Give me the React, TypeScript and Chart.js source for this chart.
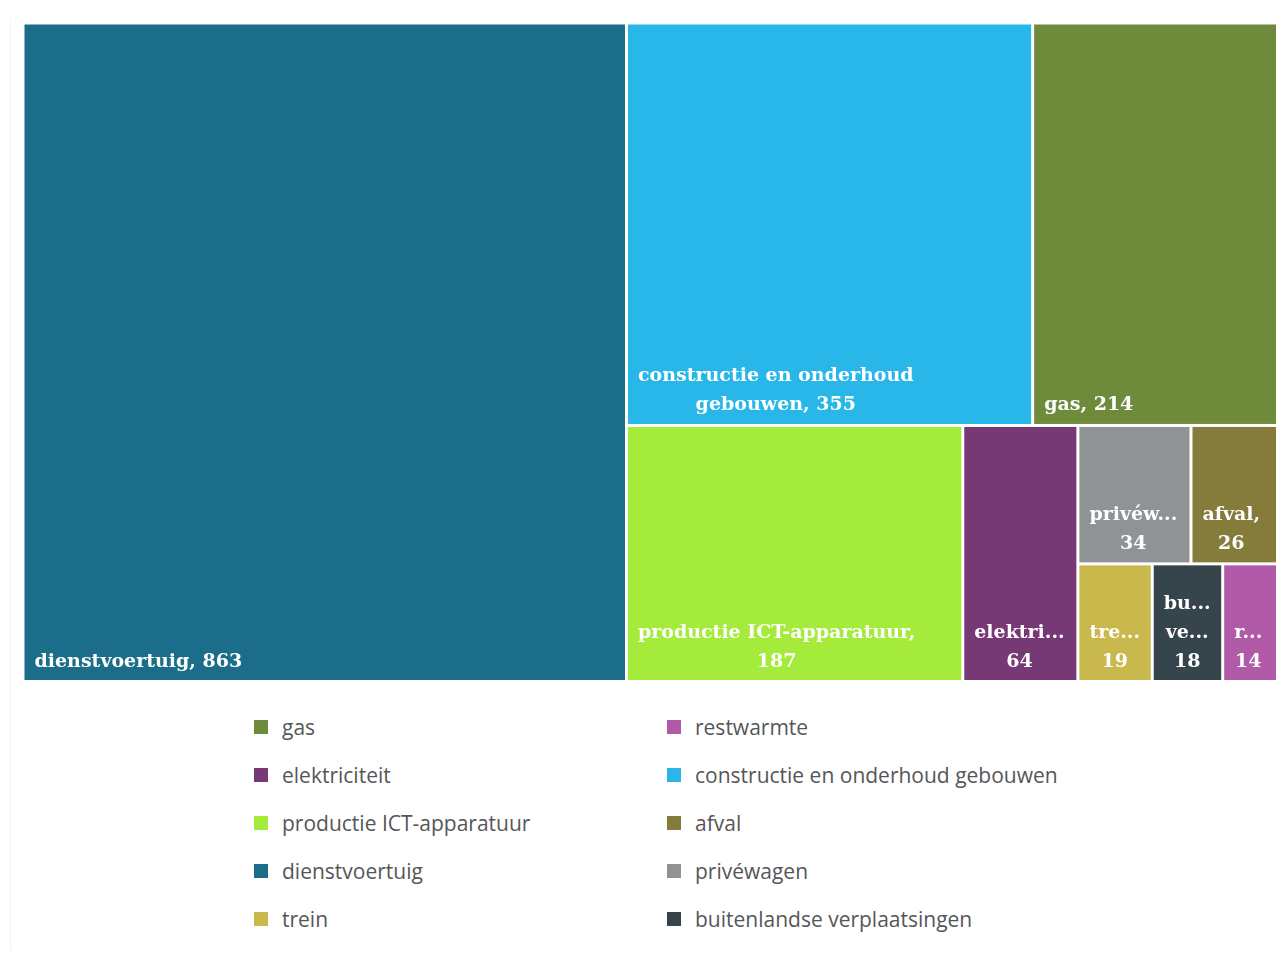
import React, { useEffect, useRef } from 'react';
import { Chart, registerables } from 'chart.js';

Chart.register(...registerables);

// ---- data ----
const categories = [
  'dienstvoertuig',
  'constructie en onderhoud gebouwen',
  'gas',
  'productie ICT-apparatuur',
  'elektriciteit',
  'privéwagen',
  'afval',
  'trein',
  'buitenlandse verplaatsingen',
  'restwarmte',
];
const values = [863, 355, 214, 187, 64, 34, 26, 19, 18, 14];
const colors = [
  '#1b6d8a',
  '#29b6e9',
  '#6e8b3b',
  '#a4eb3b',
  '#773876',
  '#909396',
  '#857b3b',
  '#c9b84b',
  '#36444c',
  '#b05aa8',
];
const legendOrder = [
  'gas',
  'restwarmte',
  'elektriciteit',
  'constructie en onderhoud gebouwen',
  'productie ICT-apparatuur',
  'afval',
  'dienstvoertuig',
  'privéwagen',
  'trein',
  'buitenlandse verplaatsingen',
];

// ---- layout constants ----
const TW = 100; // domain width of the treemap
const TH = 52.5; // domain height (same aspect as the plot area)
const RATIO = 0.85; // squarify target ratio
const GAP = 1.5;
const PAD = 10;
const LINE_H = 29;
const BASE_OFF = 13.5;
const LABEL_FONT = 'bold 19px "DejaVu Serif", serif';

type Rect = { x: number; y: number; w: number; h: number };

function squarify(vals: number[], x0: number, y0: number, w0: number, h0: number, ratio: number): Rect[] {
  const total = vals.reduce((a, b) => a + b, 0);
  const k = (w0 * h0) / total;
  const areas = vals.map((v) => v * k);
  const out: Rect[] = [];
  let x = x0, y = y0, w = w0, h = h0;
  let i = 0;
  while (i < areas.length) {
    const L = Math.min(w, h);
    const worst = (row: number[]) => {
      const s = row.reduce((a, b) => a + b, 0);
      const mx = Math.max(...row);
      const mn = Math.min(...row);
      const f = L * L * ratio;
      return Math.max((f * mx) / (s * s), (s * s) / (f * mn));
    };
    let row = [areas[i]];
    let best = worst(row);
    let j = i + 1;
    while (j < areas.length) {
      const cand = [...row, areas[j]];
      const sc = worst(cand);
      if (sc <= best) {
        row = cand;
        best = sc;
        j++;
      } else break;
    }
    const s = row.reduce((a, b) => a + b, 0);
    if (w >= h) {
      const cw = s / h;
      let yy = y;
      for (const a of row) {
        const rh = a / cw;
        out.push({ x, y: yy, w: cw, h: rh });
        yy += rh;
      }
      x += cw;
      w -= cw;
    } else {
      const rh = s / w;
      let xx = x;
      for (const a of row) {
        const rw = a / rh;
        out.push({ x: xx, y, w: rw, h: rh });
        xx += rw;
      }
      y += rh;
      h -= rh;
    }
    i = j;
  }
  return out;
}

const treemapPlugin = {
  id: 'treemapCells',
  afterDatasetsDraw(chart: any) {
    const { ctx } = chart;
    const xs = chart.scales.x;
    const ys = chart.scales.y;
    const rects = squarify(values, 0, 0, TW, TH, RATIO);
    ctx.save();
    rects.forEach((r, i) => {
      const left = xs.getPixelForValue(r.x) + GAP;
      const right = xs.getPixelForValue(r.x + r.w) - GAP;
      const top = ys.getPixelForValue(r.y) + GAP;
      const bottom = ys.getPixelForValue(r.y + r.h) - GAP;
      ctx.fillStyle = colors[i];
      ctx.fillRect(left, top, right - left, bottom - top);

      // label
      ctx.font = LABEL_FONT;
      const avail = right - left - 2 * PAD;
      const fit = (wd: string) => {
        if (ctx.measureText(wd).width <= avail) return wd;
        let s = wd;
        while (s.length > 1 && ctx.measureText(s + '...').width > avail) s = s.slice(0, -1);
        return s + '...';
      };
      const words = `${categories[i]}, ${values[i]}`.split(' ');
      const lines: string[] = [];
      let cur = '';
      for (const wd of words) {
        const test = cur ? cur + ' ' + wd : wd;
        if (ctx.measureText(test).width <= avail) cur = test;
        else {
          if (cur) lines.push(cur);
          cur = fit(wd);
        }
      }
      if (cur) lines.push(cur);
      const blockW = Math.max(...lines.map((l) => ctx.measureText(l).width));
      const cx = left + PAD + blockW / 2;
      ctx.fillStyle = '#ffffff';
      ctx.textAlign = 'center';
      ctx.textBaseline = 'alphabetic';
      const n = lines.length;
      lines.forEach((l, kk) => {
        const by = bottom - BASE_OFF - (n - 1 - kk) * LINE_H;
        ctx.fillText(l, cx, by);
      });
    });
    ctx.restore();
  },
};

export default function App() {
  const ref = useRef<HTMLCanvasElement>(null);
  useEffect(() => {
    const chart = new Chart(ref.current as HTMLCanvasElement, {
      type: 'scatter',
      data: { datasets: [{ label: 'uitstoot', data: [], pointRadius: 0 }] },
      options: {
        animation: false,
        responsive: true,
        maintainAspectRatio: false,
        events: [],
        layout: { padding: { left: 15, top: 15, right: 2.5, bottom: 6.5 } },
        plugins: { legend: { display: false }, tooltip: { enabled: false } },
        scales: {
          x: { type: 'linear', display: false, min: 0, max: TW },
          y: { type: 'linear', display: false, min: 0, max: TH, reverse: true },
        },
      },
      plugins: [treemapPlugin],
    } as any);
    return () => chart.destroy();
  }, []);

  const colorOf = (name: string) => colors[categories.indexOf(name)];

  return (
    <div style={{ position: 'relative', width: 1272, height: 942, background: '#fff' }}>
      <div
        style={{
          position: 'absolute',
          left: 2,
          top: 12,
          bottom: 0,
          width: 0,
          borderLeft: '1px solid #f4f4f4',
        }}
      />
      <div style={{ position: 'relative', width: 1272, height: 680 }}>
        <canvas ref={ref} />
      </div>
      <div
        style={{
          position: 'absolute',
          top: 695,
          left: 246,
          display: 'grid',
          gridTemplateColumns: '413px auto',
          gridAutoRows: '48px',
          fontFamily: '"Open Sans", sans-serif',
          fontSize: 21,
          color: '#555658',
        }}
      >
        {legendOrder.map((name) => (
          <div key={name} style={{ display: 'flex', alignItems: 'center', whiteSpace: 'nowrap' }}>
            <span
              style={{
                display: 'inline-block',
                width: 14,
                height: 14,
                background: colorOf(name),
                marginRight: 14,
                flex: '0 0 auto',
              }}
            />
            <span>{name}</span>
          </div>
        ))}
      </div>
    </div>
  );
}
